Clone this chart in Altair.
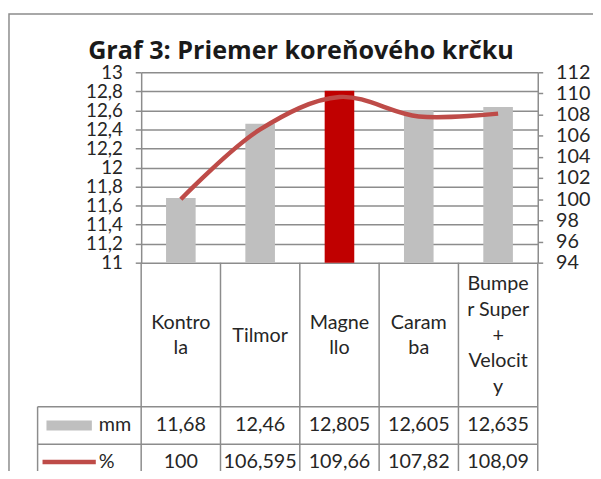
import altair as alt
import pandas as pd

# ---- data ----
categories = ["Kontrola", "Tilmor", "Magnello", "Caramba", "Bumper Super + Velocity"]
header_labels = ["Kontro\nla", "Tilmor", "Magne\nllo", "Caram\nba", "Bumpe\nr Super\n+\nVelocit\ny"]
mm_values = [11.68, 12.46, 12.805, 12.605, 12.635]
pct_values = [100, 106.595, 109.66, 107.82, 108.09]
bar_colors = ["#BFBFBF", "#BFBFBF", "#C00000", "#BFBFBF", "#BFBFBF"]
series_names = ["mm", "%"]
left_ticks = [11, 11.2, 11.4, 11.6, 11.8, 12, 12.2, 12.4, 12.6, 12.8, 13]
right_ticks = [94, 96, 98, 100, 102, 104, 106, 108, 110, 112]
title_text = "Graf 3: Priemer koreňového krčku"


def fmt(v):
    return f"{v:g}".replace(".", ",")


W, H = 402, 193
FONT = "Lato"
TXT = "#262626"
GRID = "#8C8C8C"
LINE_RED = "#BE4B48"
HEADER_CENTER = 267
LINE_H = 26
TFS = 20

df = pd.DataFrame({
    "cat": categories,
    "header": header_labels,
    "hy": [HEADER_CENTER - (h.count("\n")) * LINE_H / 2 for h in header_labels],
    "mm": mm_values,
    "pct": pct_values,
    "color": bar_colors,
    "mm_lbl": [fmt(v) for v in mm_values],
    "pct_lbl": [fmt(v) for v in pct_values],
})

x_enc = alt.X("cat:N", sort=categories, axis=None,
              scale=alt.Scale(paddingInner=0, paddingOuter=0))

base = alt.Chart(df)

bars = base.mark_bar(size=30).encode(
    x=x_enc,
    y=alt.Y("mm:Q",
            scale=alt.Scale(domain=[11, 13], nice=False, zero=False, clamp=True),
            axis=alt.Axis(values=left_ticks, title=None, grid=True,
                          gridColor=GRID, gridWidth=1.5,
                          domainColor=GRID, domainWidth=1.5,
                          tickColor=GRID, tickWidth=1.5, tickSize=6,
                          labelPadding=13, labelFontSize=19, labelFont=FONT,
                          labelColor=TXT, labelOverlap=False, labelBound=False,
                          labelFlush=False,
                          labelExpr="replace(format(datum.value, '.1~f'), '.', ',')")),
    y2=alt.datum(11),
    color=alt.Color("color:N", scale=None),
)

line = base.mark_line(interpolate="catmull-rom", strokeWidth=4.5, color=LINE_RED).encode(
    x=x_enc,
    y=alt.Y("pct:Q",
            scale=alt.Scale(domain=[94, 112], nice=False, zero=False),
            axis=alt.Axis(orient="right", values=right_ticks, title=None, grid=False,
                          domainColor=GRID, domainWidth=1.5,
                          tickColor=GRID, tickWidth=1.5, tickSize=5,
                          labelPadding=13, labelFontSize=20, labelFont=FONT,
                          labelColor=TXT, labelOverlap=False, labelBound=False,
                          labelFlush=False)),
)

# table vertical dividers (band starts) + right edge
vrules = base.mark_rule(color=GRID, strokeWidth=1.5).encode(
    x=alt.X("cat:N", sort=categories, axis=None, bandPosition=0,
            scale=alt.Scale(paddingInner=0, paddingOuter=0)),
    y=alt.value(H), y2=alt.value(H + 300),
)
right_edge = alt.Chart(pd.DataFrame({"a": [0]})).mark_rule(color=GRID, strokeWidth=1.5).encode(
    x=alt.value(W), y=alt.value(H), y2=alt.value(H + 300))
legend_edge = alt.Chart(pd.DataFrame({"a": [0]})).mark_rule(color=GRID, strokeWidth=1.5).encode(
    x=alt.value(-105), y=alt.value(339), y2=alt.value(H + 300))
hrules = alt.Chart(pd.DataFrame({"yy": [339, 377]})).mark_rule(color=GRID, strokeWidth=1.5).encode(
    x=alt.value(-105), x2=alt.value(W), y=alt.Y("yy:Q", scale=None))

header_txt = base.mark_text(fontSize=TFS, font=FONT, color=TXT, lineBreak="\n",
                            lineHeight=LINE_H, baseline="middle", align="center").encode(
    x=x_enc, y=alt.Y("hy:Q", scale=None), text="header:N")
mm_txt = base.mark_text(fontSize=TFS, font=FONT, color=TXT, baseline="middle").encode(
    x=x_enc, y=alt.value(358), text="mm_lbl:N")
pct_txt = base.mark_text(fontSize=TFS, font=FONT, color=TXT, baseline="middle").encode(
    x=x_enc, y=alt.value(395), text="pct_lbl:N")

# legend keys inside table
leg_df = pd.DataFrame({"name": series_names, "yy": [358, 395]})
leg_names = alt.Chart(leg_df).mark_text(fontSize=TFS, font=FONT, color=TXT,
                                        align="left", baseline="middle").encode(
    x=alt.value(-43), y=alt.Y("yy:Q", scale=None), text="name:N")
swatch_gray = alt.Chart(pd.DataFrame({"a": [0]})).mark_rect(color="#BFBFBF").encode(
    x=alt.value(-96), x2=alt.value(-50), y=alt.value(353), y2=alt.value(363))
swatch_red = alt.Chart(pd.DataFrame({"a": [0]})).mark_rule(color=LINE_RED, strokeWidth=4.5).encode(
    x=alt.value(-100), x2=alt.value(-46), y=alt.value(395))

# outer frame and title
frame = alt.Chart(pd.DataFrame({"a": [0]})).mark_rect(filled=False, stroke="#8C8C8C",
                                                     strokeWidth=1.5).encode(
    x=alt.value(-134), x2=alt.value(W + 200), y=alt.value(-59), y2=alt.value(H + 400))
title = alt.Chart(pd.DataFrame({"t": [title_text]})).mark_text(
    fontSize=25.5, fontWeight="bold", font="Open Sans", color="#1a1a1a",
    align="center", baseline="alphabetic").encode(
    x=alt.value(162), y=alt.value(-13), text="t:N")

chart = alt.layer(
    frame, bars, line, vrules, right_edge, legend_edge, hrules,
    header_txt, mm_txt, pct_txt, leg_names, swatch_gray, swatch_red, title,
).resolve_scale(y="independent").properties(
    width=W, height=H,
    padding={"left": 135, "top": 62, "right": 56, "bottom": 208},
    autosize="none",
).configure_view(stroke=None)

chart.save("out.html", embed_options={"renderer": "svg", "actions": False})
